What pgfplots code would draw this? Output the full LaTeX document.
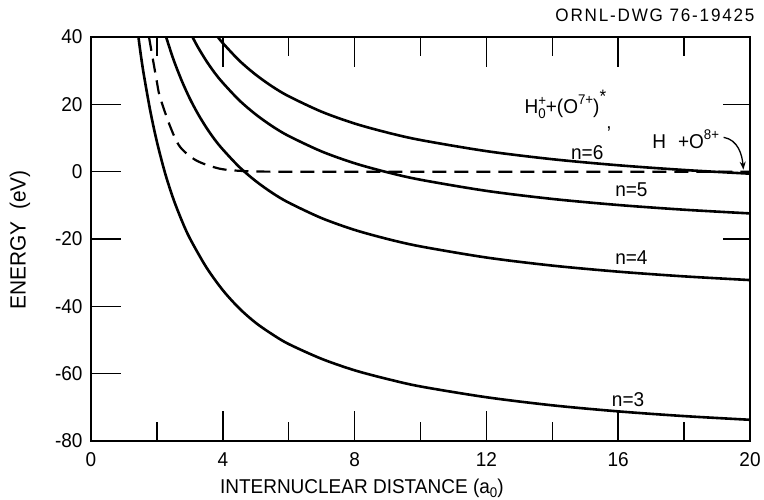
\documentclass[border=0pt]{standalone}
\usepackage{fontspec}
\setmainfont{Liberation Sans}[FakeStretch=0.95]
\usepackage{pgfplots}
\pgfplotsset{compat=1.18}
\usetikzlibrary{arrows.meta}
\newcommand{\sm}[1]{{\fontsize{14}{14}\selectfont #1}}
\begin{document}
\begin{tikzpicture}[font=\fontsize{20}{23}\selectfont]
\path[use as bounding box] (-91pt,-58pt) rectangle (673pt,441pt);
\begin{axis}[
  scale only axis, width=659pt, height=404pt,
  xmin=0, xmax=20, ymin=-80, ymax=40,
  xtick={0,4,...,20}, minor xtick={2,6,...,18},
  ytick={-80,-60,...,40},
  xtick pos=both, ytick pos=left,
  tick align=inside,
  major tick length=30pt, minor tick length=19pt,
  axis line style={line width=2pt},
  every tick/.style={black, line width=1.5pt},
  /pgf/number format/assume math mode=true,
  xticklabel style={yshift=-8pt},
  yticklabel style={xshift=-5pt},
  clip mode=individual,
]
% n=3
\addplot[black, line width=2.6pt, smooth, tension=0.5] coordinates {
 (1.44,40) (1.5,35.5) (1.6,29.0) (1.8,18.0) (2.0,8.9) (2.25,-0.5) (2.5,-8.1)
 (2.75,-14.4) (3.0,-19.8) (3.5,-28.4) (4.0,-35.2) (4.5,-40.6) (5.0,-44.9)
 (5.5,-48.3) (6,-51.2) (7,-55.6) (8,-59.0) (9,-61.6) (10,-63.8) (12,-67.0)
 (14,-69.4) (16,-71.2) (18,-72.6) (20,-73.7)};
% dashed
\addplot[black, line width=2.2pt, dash pattern=on 14pt off 8pt, smooth, tension=0.5] coordinates {
 (1.76,40) (1.99,27.2) (2.09,22.3) (2.4,13.5) (2.7,7.4) (3.2,3.3) (3.9,0.9)
 (4.6,0.2) (5.5,0) (8,0) (12,0) (16,0) (20,0)};
% n=4
\addplot[black, line width=2.6pt, smooth, tension=0.5] coordinates {
 (2.28,40) (2.5,33.4) (2.75,27.1) (3.0,21.7) (3.25,17.1) (3.5,13.1) (3.75,9.6)
 (4,6.6) (4.5,1.4) (5,-2.8) (5.5,-6.3) (6,-9.2) (7,-13.8) (8,-17.3) (9,-20.0)
 (10,-22.2) (12,-25.5) (14,-27.9) (16,-29.7) (18,-31.1) (20,-32.2)};
% n=5
\addplot[black, line width=2.6pt, smooth, tension=0.5] coordinates {
 (3.08,40) (3.25,36.9) (3.5,32.9) (3.75,29.4) (4,26.4) (4.5,21.2) (5,17.0)
 (5.5,13.5) (6,10.6) (7,6.0) (8,2.5) (9,-0.2) (10,-2.4) (12,-5.7) (14,-8.1)
 (16,-9.9) (18,-11.3) (20,-12.4)};
% n=6
\addplot[black, line width=2.6pt, smooth, tension=0.5] coordinates {
 (3.85,40) (4,38.2) (4.5,33.0) (5,28.8) (5.5,25.3) (6,22.4) (7,17.8) (8,14.3)
 (9,11.6) (10,9.4) (12,6.1) (14,3.7) (16,1.9) (18,0.5) (20,-0.6)};

\draw[line width=1.5pt] (axis cs:20,20) -- ([xshift=-27pt]axis cs:20,20);
\draw[line width=1.5pt] (axis cs:20,-20) -- ([xshift=-27pt]axis cs:20,-20);

\node at (axis cs:15.06,5.8) {n=6};
\node at (axis cs:15.72,11.3) {'};
\node at (axis cs:16.4,-5.5) {n=5};
\node at (axis cs:16.4,-25.4) {n=4};
\node at (axis cs:16.3,-67.6) {n=3};
\node at (axis cs:14.4,20.0) {H\rlap{\raisebox{8pt}{\sm{+}}}\raisebox{-5pt}{\sm{0}}+(O\raisebox{9pt}{\sm{7+}})\raisebox{11pt}{\fontsize{18}{18}\selectfont *}};
\node at (axis cs:18.05,9.6) {H\,\, +O\raisebox{9pt}{\sm{8+}}};
\draw[-{Stealth[length=8pt,width=6pt]}, line width=1.3pt] (axis cs:19.2,10.2) to[out=-10,in=95] (axis cs:19.8,0.6);

\node[anchor=east, font=\fontsize{18}{20}\selectfont\addfontfeature{LetterSpace=10}] at ([xshift=8pt, yshift=22pt]rel axis cs:1,1) {ORNL-DWG 76-19425};
\node at ([yshift=-47pt]rel axis cs:0.411,0) {INTERNUCLEAR DISTANCE (a\raisebox{-4pt}{\sm{0}})};
\node[rotate=90, font=\fontsize{22}{24}\selectfont] at ([xshift=-71pt]rel axis cs:0,0.4975) {ENERGY\ \ (eV)};
\end{axis}
\end{tikzpicture}
\end{document}
